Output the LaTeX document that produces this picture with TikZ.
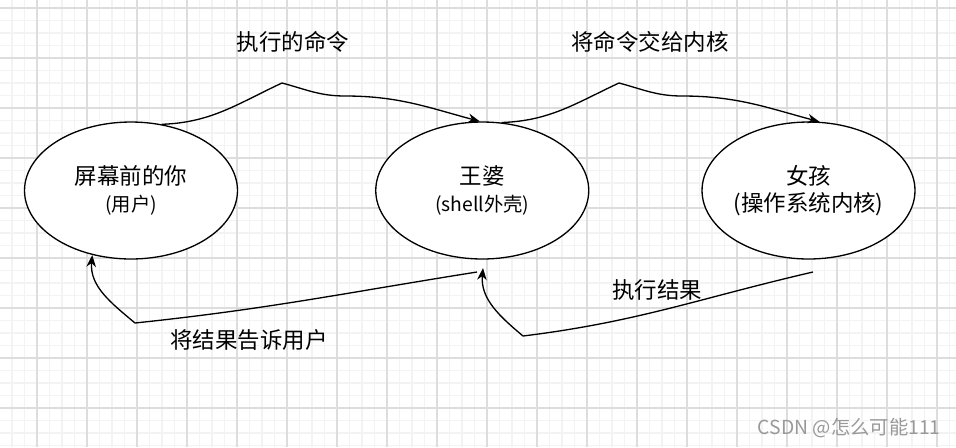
\documentclass[tikz,border=0pt]{standalone}
\usepackage{fontspec}
\newfontfamily\cjk{Noto Sans CJK SC}
\usetikzlibrary{arrows.meta,positioning,shapes.geometric}
\definecolor{gridmajor}{HTML}{DDDDDD}
\definecolor{gridminor}{HTML}{F3F3F3}
\definecolor{markgray}{HTML}{999999}
\newcommand\mainsize{\fontsize{12.8}{15.5}\selectfont}
\newcommand\subsize{\fontsize{11}{14}\selectfont}
\tikzset{
  proc/.style={ellipse, draw=black, line width=0.75pt, fill=white, minimum width=4.26cm, minimum height=2.74cm, inner sep=0pt, align=center, font=\cjk\mainsize},
  note/.style={font=\cjk\mainsize, inner sep=0pt},
  flow/.style={-{Stealth[length=2.4mm,width=1.9mm]}, line width=0.75pt, draw=black}
}

\begin{document}
\begin{tikzpicture}[x=0.02cm, y=0.02cm]
  \useasboundingbox (0,0) rectangle (956,-447);
  \fill[white] (0,0) rectangle (956,-447);
  % grid
  \foreach \k in {0,...,77} \draw[gridminor, line width=0.6pt] ({\k*12.5-0.5},0) -- ++(0,-447);
  \foreach \k in {0,...,35} \draw[gridminor, line width=0.6pt] (0,{-8-\k*12.5}) -- ++(956,0);
  \foreach \k in {0,...,18} \draw[gridmajor, line width=0.6pt] ({37+\k*50},0) -- ++(0,-447);
  \foreach \k in {0,...,8} \draw[gridmajor, line width=0.6pt] (0,{-8-\k*50}) -- ++(956,0);

  \node[proc] (user) at (131,-190.5) {屏幕前的你\\{\subsize (用户)}};
  \node[proc, right=2.74cm of user] (shell) {王婆\\{\subsize (shell外壳)}};
  \node[proc, right=2.24cm of shell] (girl) {女孩\\(操作系统内核)};

  \node[note] (cmd) at (293,-42) {执行的命令};
  \node[note] (pass) at (650,-42) {将命令交给内核};
  \node[note] (tell) at (249,-340) {将结果告诉用户};
  \node[note] (res) at (657,-290) {执行结果};
  \node[font=\cjk\fontsize{11}{13}\selectfont, text=markgray, anchor=east, inner sep=0pt] (mark) at (941,-428) {CSDN @怎么可能111};

  \coordinate (tellstart) at (477,-272);
  \coordinate (resstart) at (813,-272);
  \coordinate (resend) at (483,-268);

  \draw[flow] (user.65) to[out=2,in=205] (282,-83) to[out=-15,in=180] (345,-96) to[out=0,in=165] (shell.92);
  \draw[flow] (shell.74) to[out=2,in=205] (619,-83) to[out=-15,in=180] (682,-96) to[out=0,in=165] (girl.81);
  \draw[flow] (tellstart) to[out=189,in=6] (135,-323) to[out=140,in=265] (user.239);
  \draw[flow] (resstart) to[out=193,in=7] (523,-336) to[out=140,in=265] (resend);
\end{tikzpicture}
\end{document}
